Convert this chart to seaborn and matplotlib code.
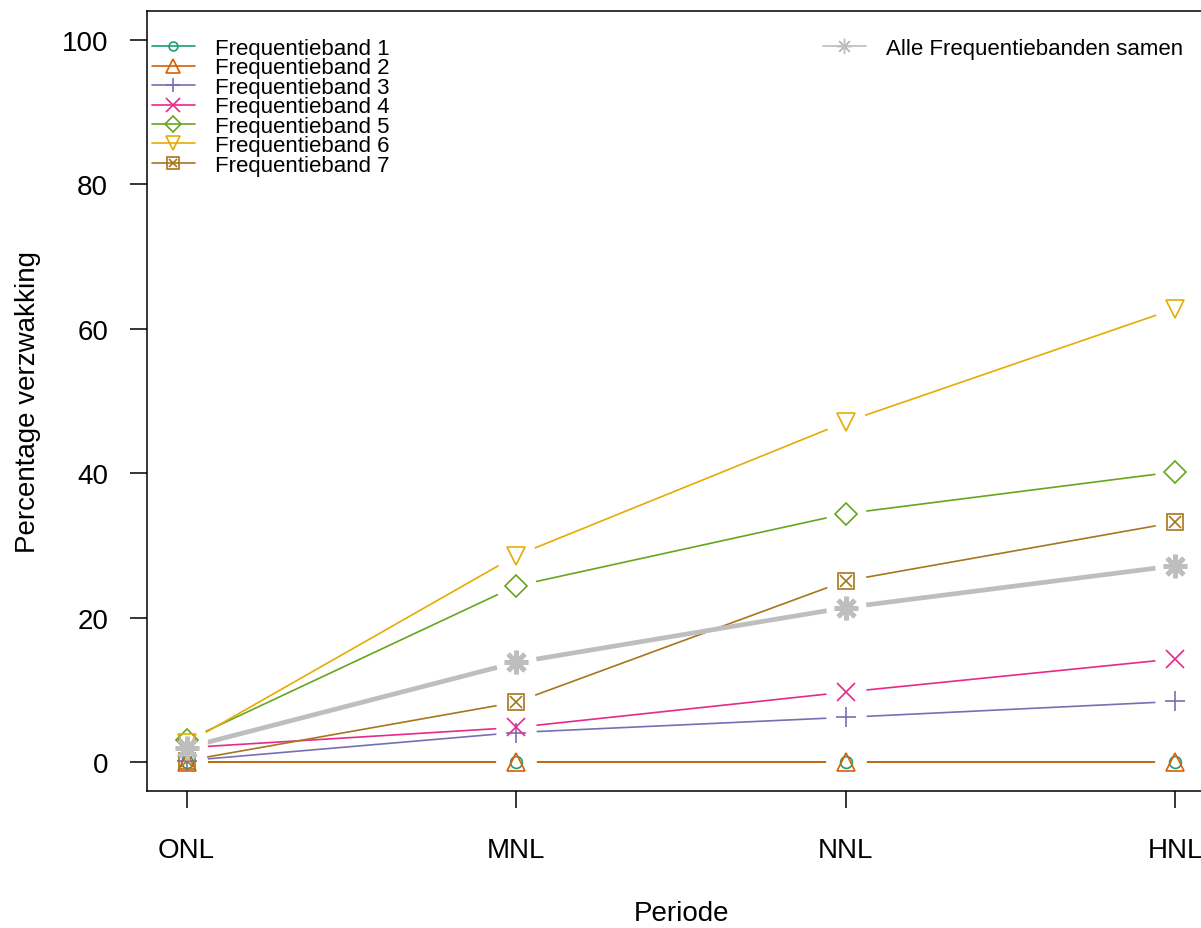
import matplotlib
matplotlib.use("Agg")
import matplotlib.pyplot as plt
import numpy as np
import pandas as pd
import seaborn as sns
from matplotlib.lines import Line2D

# Percentage verzwakking per periode en frequentieband
perioden = ["ONL", "MNL", "NNL", "HNL"]
band1 = [0.0, 0.0, 0.0, 0.0]
band2 = [0.0, 0.0, 0.0, 0.0]
band3 = [0.2, 4.1, 6.2, 8.4]
band4 = [2.0, 4.8, 9.7, 14.3]
band5 = [3.0, 24.4, 34.4, 40.2]
band6 = [2.6, 28.6, 47.1, 62.8]
band7 = [0.2, 8.3, 25.1, 33.2]
alle = [2.0, 13.8, 21.4, 27.2]

band_labels = [f"Frequentieband {i}" for i in range(1, 8)]
band_values = [band1, band2, band3, band4, band5, band6, band7]
alle_label = "Alle Frequentiebanden samen"

colors = ["#1B9E77", "#D95F02", "#7570B3", "#E7298A", "#66A61E", "#E6AB02", "#A6761D"]
grey = "#BEBEBE"
markers = ["o", "^", "+", "x", "D", "v", "s"]
msizes = [8.5, 13.5, 14, 13, 11, 13.5, 12]

rows = []
for lab, vals in zip(band_labels, band_values):
    for i, v in enumerate(vals):
        rows.append({"band": lab, "pos": i, "periode": perioden[i], "waarde": v})
df = pd.DataFrame(rows)
df_alle = pd.DataFrame({"pos": np.arange(len(perioden)), "waarde": alle})

sns.set_theme(style="white")
plt.rcParams["font.family"] = ["Liberation Sans", "DejaVu Sans"]
plt.rcParams["text.color"] = "black"
plt.rcParams["axes.labelcolor"] = "black"

fig = plt.figure(figsize=(12.01, 9.29), dpi=100)
ax = fig.add_axes([147 / 1201, 1 - 792 / 929, 1068 / 1201, 780 / 929])

# lines
sns.lineplot(data=df, x="pos", y="waarde", hue="band", palette=dict(zip(band_labels, colors)),
             linewidth=1.2, legend=False, ax=ax, zorder=2, sort=False)
sns.lineplot(data=df_alle, x="pos", y="waarde", color=grey, linewidth=3.4,
             legend=False, ax=ax, zorder=2)

# gaps round the points (type "b" look)
for vals in band_values + [alle]:
    ax.plot(range(len(vals)), vals, linestyle="none", marker="o", markersize=29,
            markerfacecolor="white", markeredgecolor="none", zorder=3)

# points
for vals, c, m, s in zip(band_values, colors, markers, msizes):
    ax.plot(range(len(vals)), vals, linestyle="none", marker=m, markersize=s,
            markerfacecolor="none", markeredgecolor=c, markeredgewidth=1.2, zorder=4)
ax.plot(range(len(band7)), band7, linestyle="none", marker="x", markersize=8,
        markeredgecolor=colors[6], markeredgewidth=1.2, zorder=4)
ax.plot(range(len(alle)), alle, linestyle="none", marker=(8, 2, 0), markersize=17,
        markeredgecolor=grey, markeredgewidth=3.4, zorder=4)

ax.set_xlim(-0.12, 3.12)
ax.set_ylim(-4, 104)
ax.set_xticks(range(len(perioden)))
ax.set_xticklabels(perioden)
ax.set_yticks([0, 20, 40, 60, 80, 100])
ax.tick_params(axis="both", direction="out", length=12, width=1.1, color="black",
               labelsize=20, labelcolor="black", bottom=True, left=True)
ax.tick_params(axis="x", pad=21)
ax.tick_params(axis="y", pad=16)
for side in ["left", "bottom", "top", "right"]:
    ax.spines[side].set_visible(True)
    ax.spines[side].set_color("black")
    ax.spines[side].set_linewidth(1.1)
ax.set_xlabel("Periode", fontsize=20, labelpad=27)
ax.set_ylabel("Percentage verzwakking", fontsize=20, labelpad=15)
ax.grid(False)

# legends
handles = []
for c, m, s in zip(colors, markers, msizes):
    handles.append(Line2D([], [], color=c, linewidth=1.2, marker=m, markersize=s * 0.75,
                          markerfacecolor="none", markeredgecolor=c, markeredgewidth=1.2))
handles[6] = (handles[6], Line2D([], [], linestyle="none", marker="x", markersize=5.5,
                                 markeredgecolor=colors[6], markeredgewidth=1.2))
leg1 = ax.legend(handles, band_labels, loc="upper left", bbox_to_anchor=(152 / 1201, 1 - 39 / 929),
                 bbox_transform=fig.transFigure, frameon=False, fontsize=16,
                 handlelength=1.93, handletextpad=0.9, labelspacing=-0.07,
                 borderpad=0, borderaxespad=0, labelcolor="black")
ax.add_artist(leg1)
h_alle = Line2D([], [], color=grey, linewidth=1.2, marker=(8, 2, 0), markersize=11,
                markeredgecolor=grey, markeredgewidth=1.0)
ax.legend([h_alle], [alle_label], loc="upper left", bbox_to_anchor=(823 / 1201, 1 - 39 / 929),
          bbox_transform=fig.transFigure, frameon=False, fontsize=16,
          handlelength=1.93, handletextpad=0.9, borderpad=0, borderaxespad=0,
          labelcolor="black")

fig.savefig("out.png", dpi=100)
